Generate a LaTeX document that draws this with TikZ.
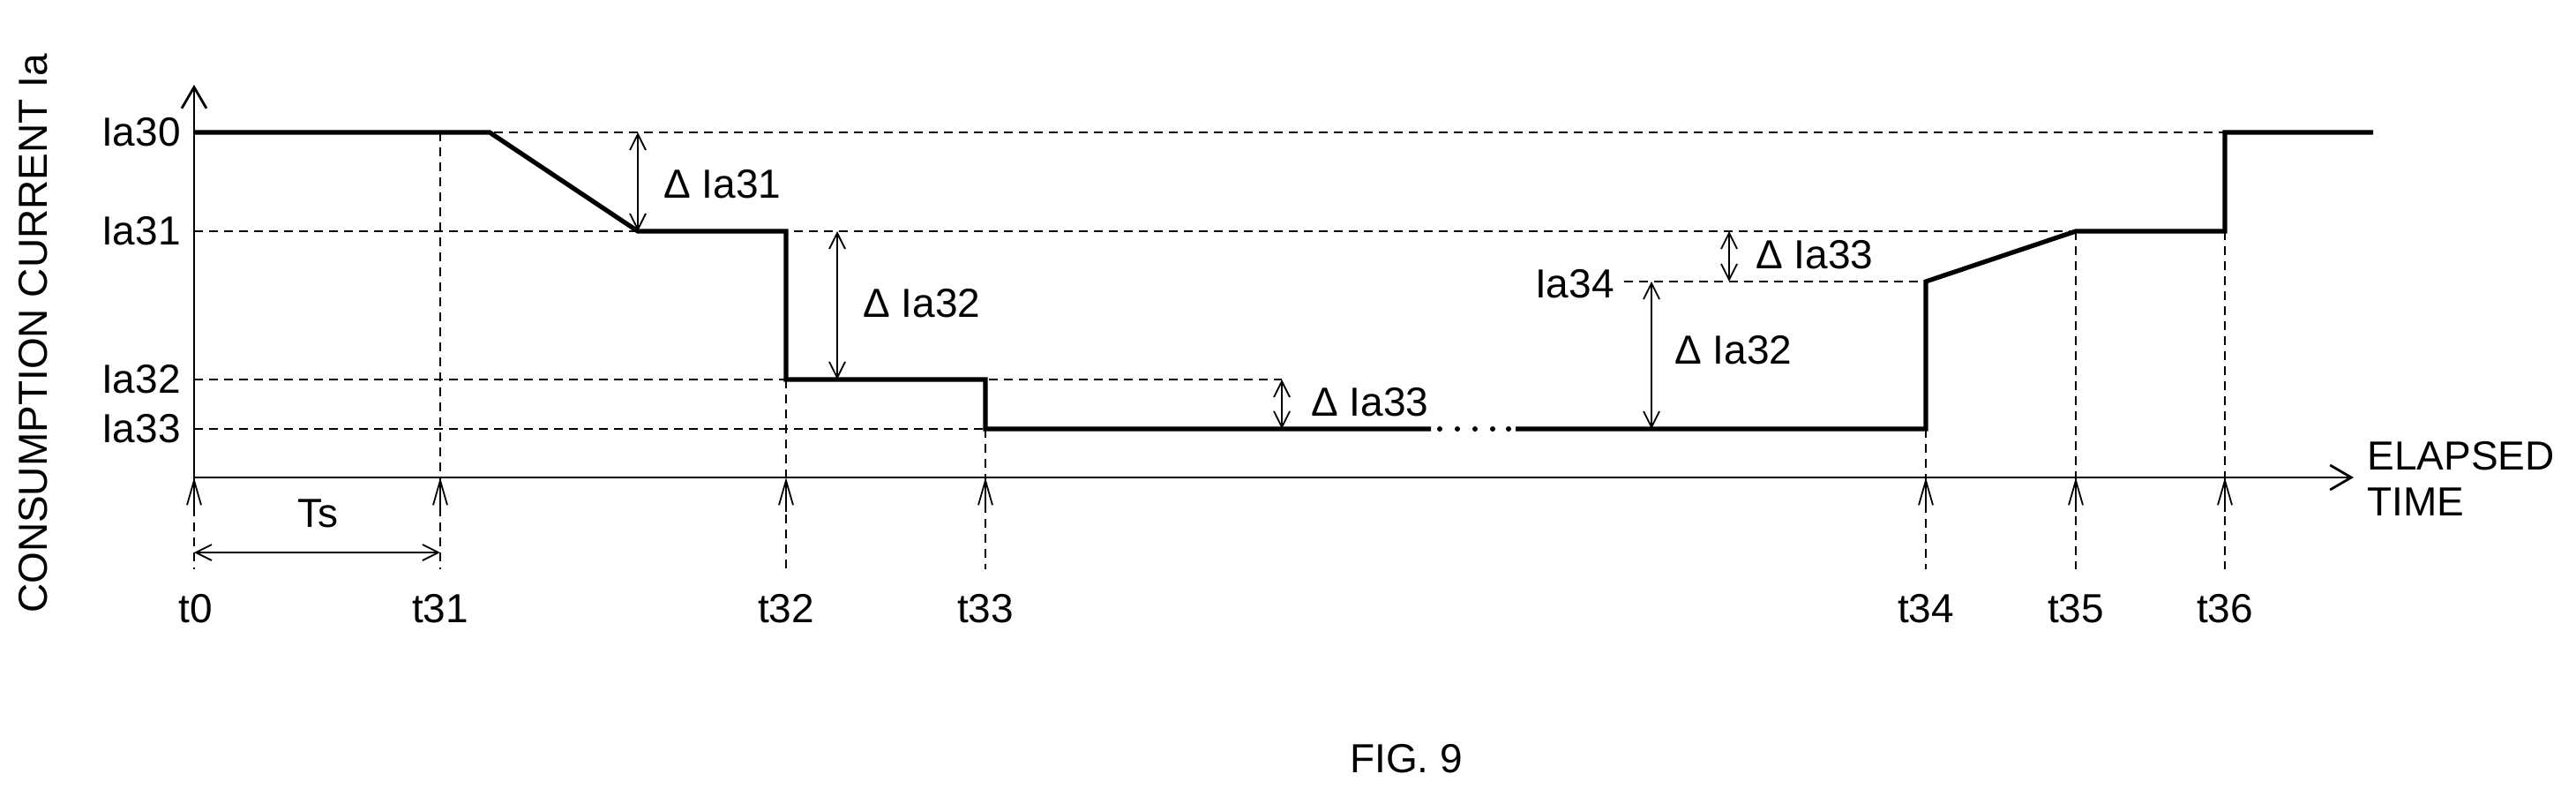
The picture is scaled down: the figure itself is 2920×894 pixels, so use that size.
\documentclass[tikz,border=0pt]{standalone}
\usepackage{fontspec}
\setmainfont{Liberation Sans}
\usetikzlibrary{arrows.meta}
\begin{document}
\begin{tikzpicture}[x=0.5pt,y=-0.5pt,
  lbl/.style={font=\fontsize{23}{26}\selectfont, inner sep=0pt},
  curve/.style={line width=2.6pt, line join=miter},
  axis/.style={line width=1.4pt},
  guide/.style={line width=1pt, dash pattern=on 5pt off 3.5pt},
  dim/.style={line width=0.9pt, {Straight Barb[length=9pt,width=9pt]}-{Straight Barb[length=9pt,width=9pt]}},
  tick/.style={line width=0.9pt, -{Straight Barb[length=14pt,width=8pt]}}]
\useasboundingbox (0,0) rectangle (2920,894);
% coordinates
\coordinate (O) at (220,541);
\coordinate (ytop) at (220,96);
\coordinate (xend) at (2668,541);
% axes
\draw[axis,-{Straight Barb[length=12pt,width=14pt]}] (O) -- (ytop);
\draw[axis,-{Straight Barb[length=12pt,width=14pt]}] (O) -- (xend);
% horizontal guides
\draw[guide] (220,150) -- (2522,150);
\draw[guide] (220,262) -- (2353,262);
\draw[guide] (220,430) -- (1453,430);
\draw[guide] (220,486) -- (1117,486);
\draw[guide] (1841,319) -- (2183,319);
% vertical guides
\draw[guide] (220,541) -- (220,645);
\draw[guide] (499,150) -- (499,645);
\draw[guide] (891,430) -- (891,645);
\draw[guide] (1117,486) -- (1117,645);
\draw[guide] (2183,486) -- (2183,645);
\draw[guide] (2353,262) -- (2353,645);
\draw[guide] (2522,262) -- (2522,645);
% tick arrows
\foreach \x in {220,499,891,1117,2183,2353,2522}
  \draw[tick] (\x,580) -- (\x,541);
% curve
\draw[curve] (220,150) -- (555,150) -- (723,262) -- (891,262) -- (891,430) -- (1117,430) -- (1117,486) -- (1622,486);
\foreach \x in {1632,1652,1672,1692,1710}
  \fill (\x,486) circle (1.5pt);
\draw[curve] (1718,486) -- (2183,486) -- (2183,319) -- (2353,262) -- (2522,262) -- (2522,150) -- (2690,150);
% dimension arrows
\draw[dim] (723,150) -- (723,262);
\draw[dim] (949,262) -- (949,430);
\draw[dim] (1453,430) -- (1453,486);
\draw[dim] (1872,319) -- (1872,486);
\draw[dim] (1960,262) -- (1960,319);
\draw[dim] (220,626) -- (499,626);
% labels
\node[lbl,anchor=east] (la30) at (205,150) {Ia30};
\node[lbl,anchor=east] (la31) at (205,262) {Ia31};
\node[lbl,anchor=east] (la32) at (205,430) {Ia32};
\node[lbl,anchor=east] (la33) at (205,486) {Ia33};
\node[lbl,anchor=east] (la34) at (1830,322) {Ia34};
\node[lbl,anchor=west] (d31) at (752,209) {Δ Ia31};
\node[lbl,anchor=west] (d32a) at (978,344) {Δ Ia32};
\node[lbl,anchor=west] (d33a) at (1486,456) {Δ Ia33};
\node[lbl,anchor=west] (d32b) at (1898,397) {Δ Ia32};
\node[lbl,anchor=west] (d33b) at (1990,289) {Δ Ia33};
\node[lbl] (ts) at (360,582) {Ts};
\node[lbl] (t0) at (222,690) {t0};
\node[lbl] (t31) at (499,690) {t31};
\node[lbl] (t32) at (891,690) {t32};
\node[lbl] (t33) at (1117,690) {t33};
\node[lbl] (t34) at (2183,690) {t34};
\node[lbl] (t35) at (2353,690) {t35};
\node[lbl] (t36) at (2522,690) {t36};
\node[lbl,anchor=west,align=left] (el) at (2683,542) {ELAPSED\\TIME};
\node[lbl,rotate=90] (yl) at (38,378) {CONSUMPTION CURRENT Ia};
\node[lbl] (fig) at (1594,860) {FIG. 9};
\end{tikzpicture}
\end{document}
